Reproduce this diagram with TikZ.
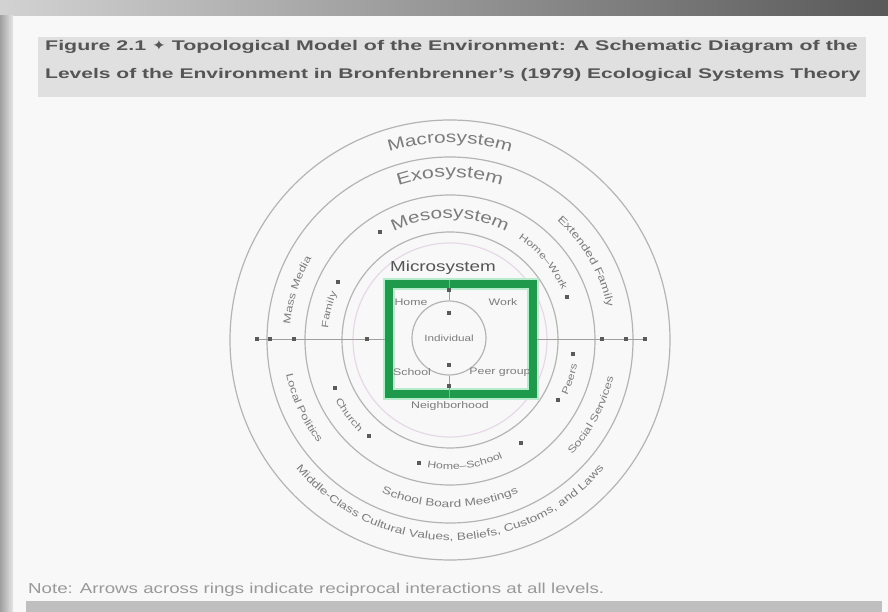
\documentclass[tikz,border=0pt]{standalone}
\usepackage{fontspec}
\setmainfont{Liberation Sans}[FakeStretch=1.3]
\newfontfamily\symfont{DejaVu Sans}
\usetikzlibrary{decorations.text}
\definecolor{ringline}{HTML}{B4B4B4}
\definecolor{ringtext}{HTML}{7C7C7C}
\definecolor{darktext}{HTML}{555555}
\definecolor{boxgreen}{HTML}{1F9A4C}
\definecolor{boxglow}{HTML}{B8EBCB}
\definecolor{titlebg}{HTML}{E0E0E0}
\definecolor{markc}{HTML}{5A5A5A}
\definecolor{pagebg}{HTML}{F8F8F8}
\definecolor{palering}{HTML}{E6D8E6}
\newcommand\ringlabel[5]{% radius, start, end, size, text
  \path[shift={(C)},decorate,decoration={text along path,text align=center,text color=ringtext,
    text={|\fontsize{#4}{#4}\selectfont|#5}}]
    (#2:#1) arc[start angle=#2,end angle=#3,radius=#1];}
\tikzset{
  ring/.style={draw=ringline,line width=1.2pt},
  mk/.style={fill=markc,inner sep=0pt,minimum width=4pt,minimum height=4pt},
  link/.style={draw=gray!75,line width=0.8pt},
  smalllab/.style={text=ringtext,font=\fontsize{9.5}{9.5}\selectfont,inner sep=0pt},
  titletext/.style={anchor=west,text=darktext,font=\bfseries\fontsize{14}{14}\selectfont,inner sep=0pt},
}
\begin{document}
\begin{tikzpicture}[x=1pt,y=1pt]
\useasboundingbox (0,0) rectangle (888,612);
\fill[pagebg] (0,0) rectangle (888,612);
% frame
\shade[left color=gray!35,right color=black!65] (0,596) rectangle (888,612);
\shade[left color=gray!75,right color=gray!20] (0,0) rectangle (13,596);
\fill[gray!50] (26,0) rectangle (882,11);
% title
\fill[titlebg] (38,515) rectangle (866,575);
\node[titletext] (t1) at (45,565)
  {\scalebox{1.175}[1]{Figure 2.1 {\symfont ✦} Topological Model of the Environment: A Schematic Diagram of the}};
\node[titletext] (t2) at (45,537)
  {\scalebox{1.155}[1]{Levels of the Environment in Bronfenbrenner's (1979) Ecological Systems Theory}};
% note
\node[anchor=west,text=gray!80,font=\fontsize{14.4}{14.4}\selectfont,inner sep=0pt] (note) at (28,22)
  {Note: Arrows across rings indicate reciprocal interactions at all levels.};
% rings
\coordinate (C) at (450,272);
\draw[ring] (C) circle[radius=220];
\draw[ring] (C) circle[radius=183];
\draw[ring] (C) circle[radius=145];
\draw[ring] (C) circle[radius=108];
\draw[draw=palering,line width=1.2pt] (C) circle[radius=97];
% horizontal connector
\coordinate (lend) at (257,273);
\coordinate (rend) at (645,273);
\node[draw=boxglow,line width=12pt,minimum width=144pt,minimum height=110pt,inner sep=0pt] (glow) at (461,273) {};
\node[draw=boxgreen,line width=8pt,minimum width=144pt,minimum height=110pt,inner sep=0pt] (box) at (461,273) {};
\draw[link] (lend) -- (box.west);
\draw[link] (box.east) -- (rend);
% individual
\node[circle,draw=ringline,line width=1.2pt,minimum size=74pt,inner sep=0pt,text=ringtext,
  font=\fontsize{9}{9}\selectfont] (ind) at (449,274) {Individual};
\draw[link] (box.north -| ind) -- (ind.north);
\draw[link] (ind.south) -- (box.south -| ind);
% labels in box
\node[smalllab] (home) at (411,310) {Home};
\node[smalllab] (work) at (503,310) {Work};
\node[smalllab] (school) at (412,240) {School};
\node[smalllab] (peer) at (500,240) {Peer group};
\node[smalllab] (nbh) at (450,206) {Neighborhood};
\node[text=darktext,font=\fontsize{14.5}{14.5}\selectfont,inner sep=0pt] (micro) at (443,344) {Microsystem};
% arrow marks
\foreach \p [count=\i] in {(257,273),(270,273),(294,273),(367,273),(602,273),(626,273),(645,273),
  (449,322),(449,299),(449,247),(449,226),
  (380,380),(338,330),(335,224),(369,176),(419,149),(521,169),(558,212),(573,258),(567,315)}
  \node[mk] (mk\i) at \p {};
% ring titles
\ringlabel{197.5}{125}{55}{16}{Macrosystem}
\ringlabel{163}{130}{50}{16.5}{Exosystem}
\ringlabel{122}{135}{45}{16}{Mesosystem}
% macrosystem band
\ringlabel{200.5}{213}{327}{10.5}{Middle-Class Cultural Values, Beliefs, Customs, and Laws}
% exosystem band
\ringlabel{167.5}{240}{300}{10.5}{School Board Meetings}
\ringlabel{160.5}{55}{5}{10.5}{Extended Family}
\ringlabel{167.5}{312}{352}{10}{Social Services}
\ringlabel{160.5}{176}{148}{10}{Mass Media}
\ringlabel{167.5}{188}{222}{10}{Local Politics}
% mesosystem band
\ringlabel{122.5}{60}{20}{9.5}{Home–Work}
\ringlabel{129.5}{331}{353}{9.5}{Peers}
\ringlabel{129.5}{256}{298}{9.5}{Home–School}
\ringlabel{129.5}{204}{229}{9.5}{Church}
\ringlabel{122.5}{178}{154}{9.5}{Family}
\end{tikzpicture}
\end{document}
